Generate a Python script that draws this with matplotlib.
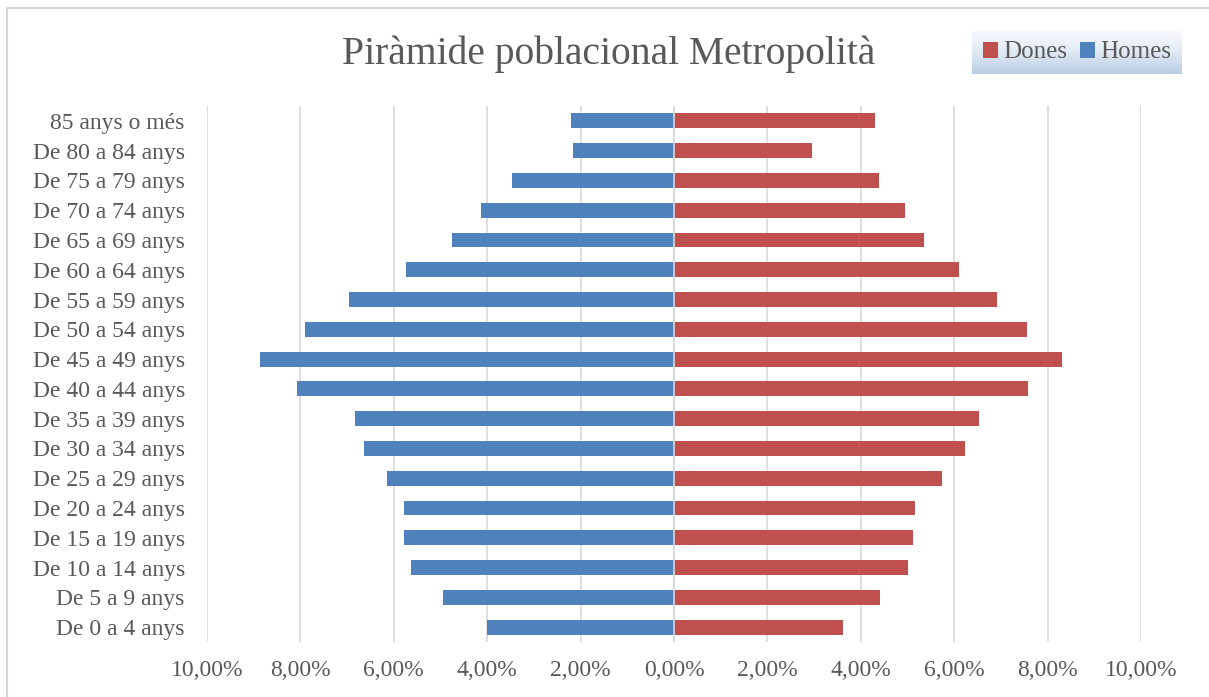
import numpy as np
import matplotlib
matplotlib.use("Agg")
import matplotlib.pyplot as plt
from matplotlib.lines import Line2D

# age groups, bottom to top
age_groups = ["De 0 a 4 anys", "De 5 a 9 anys", "De 10 a 14 anys", "De 15 a 19 anys",
              "De 20 a 24 anys", "De 25 a 29 anys", "De 30 a 34 anys", "De 35 a 39 anys",
              "De 40 a 44 anys", "De 45 a 49 anys", "De 50 a 54 anys", "De 55 a 59 anys",
              "De 60 a 64 anys", "De 65 a 69 anys", "De 70 a 74 anys", "De 75 a 79 anys",
              "De 80 a 84 anys", "85 anys o més"]

# percentages
homes = [4.00, 4.95, 5.63, 5.78, 5.78, 6.15, 6.64, 6.83, 8.07, 8.86,
         7.90, 6.96, 5.74, 4.75, 4.13, 3.47, 2.16, 2.21]
dones = [3.62, 4.41, 5.01, 5.12, 5.16, 5.74, 6.23, 6.53, 7.58, 8.31,
         7.56, 6.92, 6.10, 5.35, 4.95, 4.39, 2.96, 4.30]

x_ticks = [-10, -8, -6, -4, -2, 0, 2, 4, 6, 8, 10]

blue = "#4F81BD"
red = "#C0504D"
txt = "#595959"
grid = "#D9D9D9"

plt.rcParams['font.family'] = ['Liberation Serif', 'DejaVu Serif']

fig = plt.figure(figsize=(12.09, 6.97), dpi=100)

# chart border (top and left only, the rest is cut off)
bx, by = 7 / 1209, 1 - 8 / 697
fig.lines.append(Line2D([bx, bx, 1.0], [0.0, by, by], transform=fig.transFigure,
                        color=grid, linewidth=1.5))

ax = fig.add_axes([207 / 1209, 1 - 642 / 697, (1141 - 207) / 1209, (642 - 106) / 697])
y = np.arange(len(age_groups))
ax.barh(y, [-v for v in homes], height=0.5, color=blue, zorder=2, label="Homes")
ax.barh(y, dones, height=0.5, color=red, zorder=2, label="Dones")
ax.axvline(0, color=grid, linewidth=1.2, zorder=3)

ax.set_xlim(-10, 10)
ax.set_ylim(-0.5, len(age_groups) - 0.5)
ax.set_xticks(x_ticks)
ax.set_xticklabels([("%.2f%%" % abs(t)).replace(".", ",") for t in x_ticks])
ax.set_yticks(y)
ax.set_yticklabels(age_groups)
ax.tick_params(axis="both", length=0, colors=txt)
ax.tick_params(axis="x", pad=13, labelsize=17)
ax.tick_params(axis="y", pad=16, labelsize=17)
ax.grid(axis="x", color=grid, linewidth=1.2, zorder=0)
for s in ax.spines.values():
    s.set_visible(False)

fig.text(609 / 1209, 1 - 54 / 697, "Piràmide poblacional Metropolità",
         ha="center", va="center", fontsize=28.5, color=txt)

# legend with gradient background
lax = fig.add_axes([972 / 1209, 1 - 74 / 697, 210 / 1209, 43 / 697])
grad = np.linspace(0, 1, 100).reshape(-1, 1)
top = np.array([0.96, 0.97, 0.99])
bot = np.array([0.72, 0.80, 0.89])
img = top + (bot - top) * grad[:, :, None] ** 1.5
lax.imshow(img, aspect="auto", extent=[0, 1, 0, 1])
lax.set_axis_off()
h, l = ax.get_legend_handles_labels()
lax.legend(h[::-1], l[::-1], loc="center", ncol=2, frameon=False, fontsize=18,
           labelcolor=txt, handlelength=0.6, handleheight=0.6, handletextpad=0.2,
           columnspacing=0.5)

fig.savefig("out.png", dpi=100)
